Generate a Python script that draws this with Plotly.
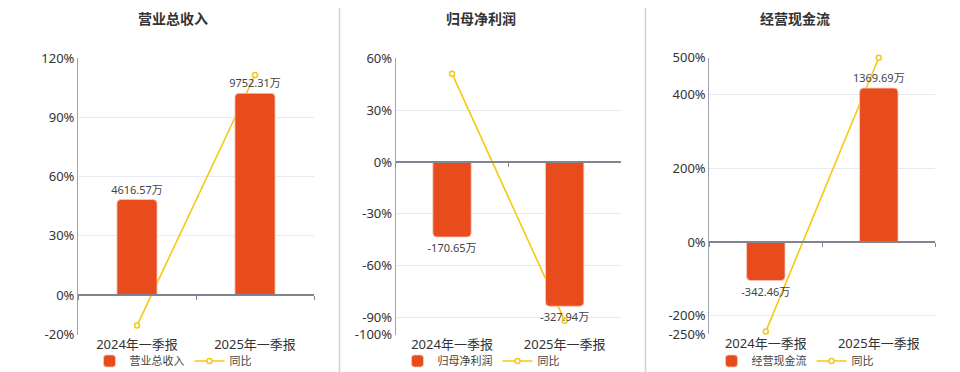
import plotly.graph_objects as go

categories = ["2024年一季报", "2025年一季报"]

titles = ["营业总收入", "归母净利润", "经营现金流"]
bar_names = ["营业总收入", "归母净利润", "经营现金流"]
line_name = "同比"

revenue = [4616.57, 9752.31]
revenue_yoy = [-15.5, 111.4]
profit = [-170.65, -327.94]
profit_yoy = [51.1, -91.8]
cashflow = [-342.46, 1369.69]
cashflow_yoy = [-243.0, 500.0]

pct_ticks = [
    [-20, 0, 30, 60, 90, 120],
    [-100, -90, -60, -30, 0, 30, 60],
    [-250, -200, 0, 200, 400, 500],
]

bar_values = [revenue, profit, cashflow]
yoy_values = [revenue_yoy, profit_yoy, cashflow_yoy]

# layout / style
W, H = 960, 372
pct_ranges = [[-20, 120], [-100, 60], [-250, 500]]
bar_scale = [95.5, 3.93, 3.28]  # bar units per percent, aligns zero lines
x_px = [(78, 314), (395.7, 621), (709.3, 935.3)]
y_px = [(58, 334.5), (58.3, 334.8), (57.7, 334.2)]
title_x = [173, 481, 795]

BAR_COLOR = "#E84B1C"
LINE_COLOR = "#F5C90F"
FONT = "Noto Sans, Noto Sans CJK SC, sans-serif"

fig = go.Figure()
layout = dict(
    width=W, height=H, margin=dict(l=0, r=0, t=0, b=0, pad=0, autoexpand=False),
    paper_bgcolor="white", plot_bgcolor="white",
    font=dict(family=FONT, color="#333333", size=12),
    showlegend=True, barcornerradius=4,
)
annotations = []
shapes = []

for i in range(3):
    n = i + 1
    xa = f"x{3*i+1}" if i else "x"
    xb = f"x{3*i+2}"
    ya = f"y{3*i+1}" if i else "y"
    yb = f"y{3*i+2}"
    xak = "xaxis" + (str(3*i+1) if i else "")
    xbk = f"xaxis{3*i+2}"
    yak = "yaxis" + (str(3*i+1) if i else "")
    ybk = f"yaxis{3*i+2}"
    dom_x = [x_px[i][0] / W, x_px[i][1] / W]
    dom_y = [1 - y_px[i][1] / H, 1 - y_px[i][0] / H]
    lo, hi = pct_ranges[i]
    s = bar_scale[i]
    legend_key = "legend" + (str(n) if n > 1 else "")

    fig.add_trace(go.Bar(
        x=categories, y=bar_values[i], name=bar_names[i],
        xaxis=xb, yaxis=yb, width=0.34,
        marker=dict(color=BAR_COLOR, line=dict(color="#F7C9BC", width=0.8)),
        texttemplate="%{y:.2f}万", textposition="outside", constraintext="none",
        textfont=dict(size=11, color="#444444"), cliponaxis=False,
        legend=legend_key,
    ))
    fig.add_trace(go.Scatter(
        x=categories, y=yoy_values[i], name=line_name, mode="lines+markers",
        xaxis=xa, yaxis=ya,
        line=dict(color=LINE_COLOR, width=1.6),
        marker=dict(symbol="circle", size=5, color="white",
                    line=dict(color=LINE_COLOR, width=1.5)),
        cliponaxis=False, legend=legend_key,
    ))

    layout[xak] = dict(
        domain=dom_x, anchor=ya, type="category", categoryarray=categories,
        range=[-0.5, 1.5],
        showline=False, showgrid=False, ticks="",
        tickfont=dict(size=13, color="#333333"),
    )
    # zero-line axis with boundary ticks (bars live on it)
    zero_pos = dom_y[0] + (0 - lo) / (hi - lo) * (dom_y[1] - dom_y[0])
    layout[xbk] = dict(
        domain=dom_x, anchor="free", position=zero_pos, overlaying=xa,
        type="category", categoryarray=categories, range=[-0.5, 1.5],
        showline=True, linecolor="#7F8490", linewidth=2,
        ticks="outside", tickson="boundaries", ticklen=4, tickcolor="#7F8490",
        showticklabels=False, showgrid=False,
    )
    layout[yak] = dict(
        domain=dom_y, anchor=xa, range=[lo, hi],
        tickvals=pct_ticks[i], ticktext=[f"{v}%" for v in pct_ticks[i]],
        showgrid=True, gridcolor="#E6E9F2", gridwidth=1,
        zeroline=False, showline=True, linecolor="#A0A4AC", linewidth=1,
        ticks="", tickfont=dict(size=13, color="#333333"),
    )
    layout[ybk] = dict(
        domain=dom_y, anchor=xb, overlaying=ya, range=[lo * s, hi * s],
        visible=False, showgrid=False, zeroline=False,
    )
    layout[legend_key] = dict(
        orientation="h", x=title_x[i] / W, xanchor="center",
        y=1 - 361 / H, yanchor="middle",
        font=dict(size=11, color="#444444"), bgcolor="rgba(0,0,0,0)",
        itemwidth=30, tracegroupgap=0,
    )
    annotations.append(dict(
        text=f"<b>{titles[i]}</b>", x=title_x[i] / W, y=1 - 19 / H,
        xref="paper", yref="paper", xanchor="center", yanchor="middle",
        showarrow=False, font=dict(size=14, color="#333333"),
    ))

for sx in [339.5, 645.5]:
    shapes.append(dict(type="line", xref="paper", yref="paper",
                       x0=sx / W, x1=sx / W, y0=0, y1=1 - 8 / H,
                       line=dict(color="#D0D0D0", width=1.5)))

layout["annotations"] = annotations
layout["shapes"] = shapes
fig.update_layout(**layout)
fig.write_html("out.html", config={"displayModeBar": False},
               post_script="document.body.style.margin='0';document.body.style.overflow='hidden';")
